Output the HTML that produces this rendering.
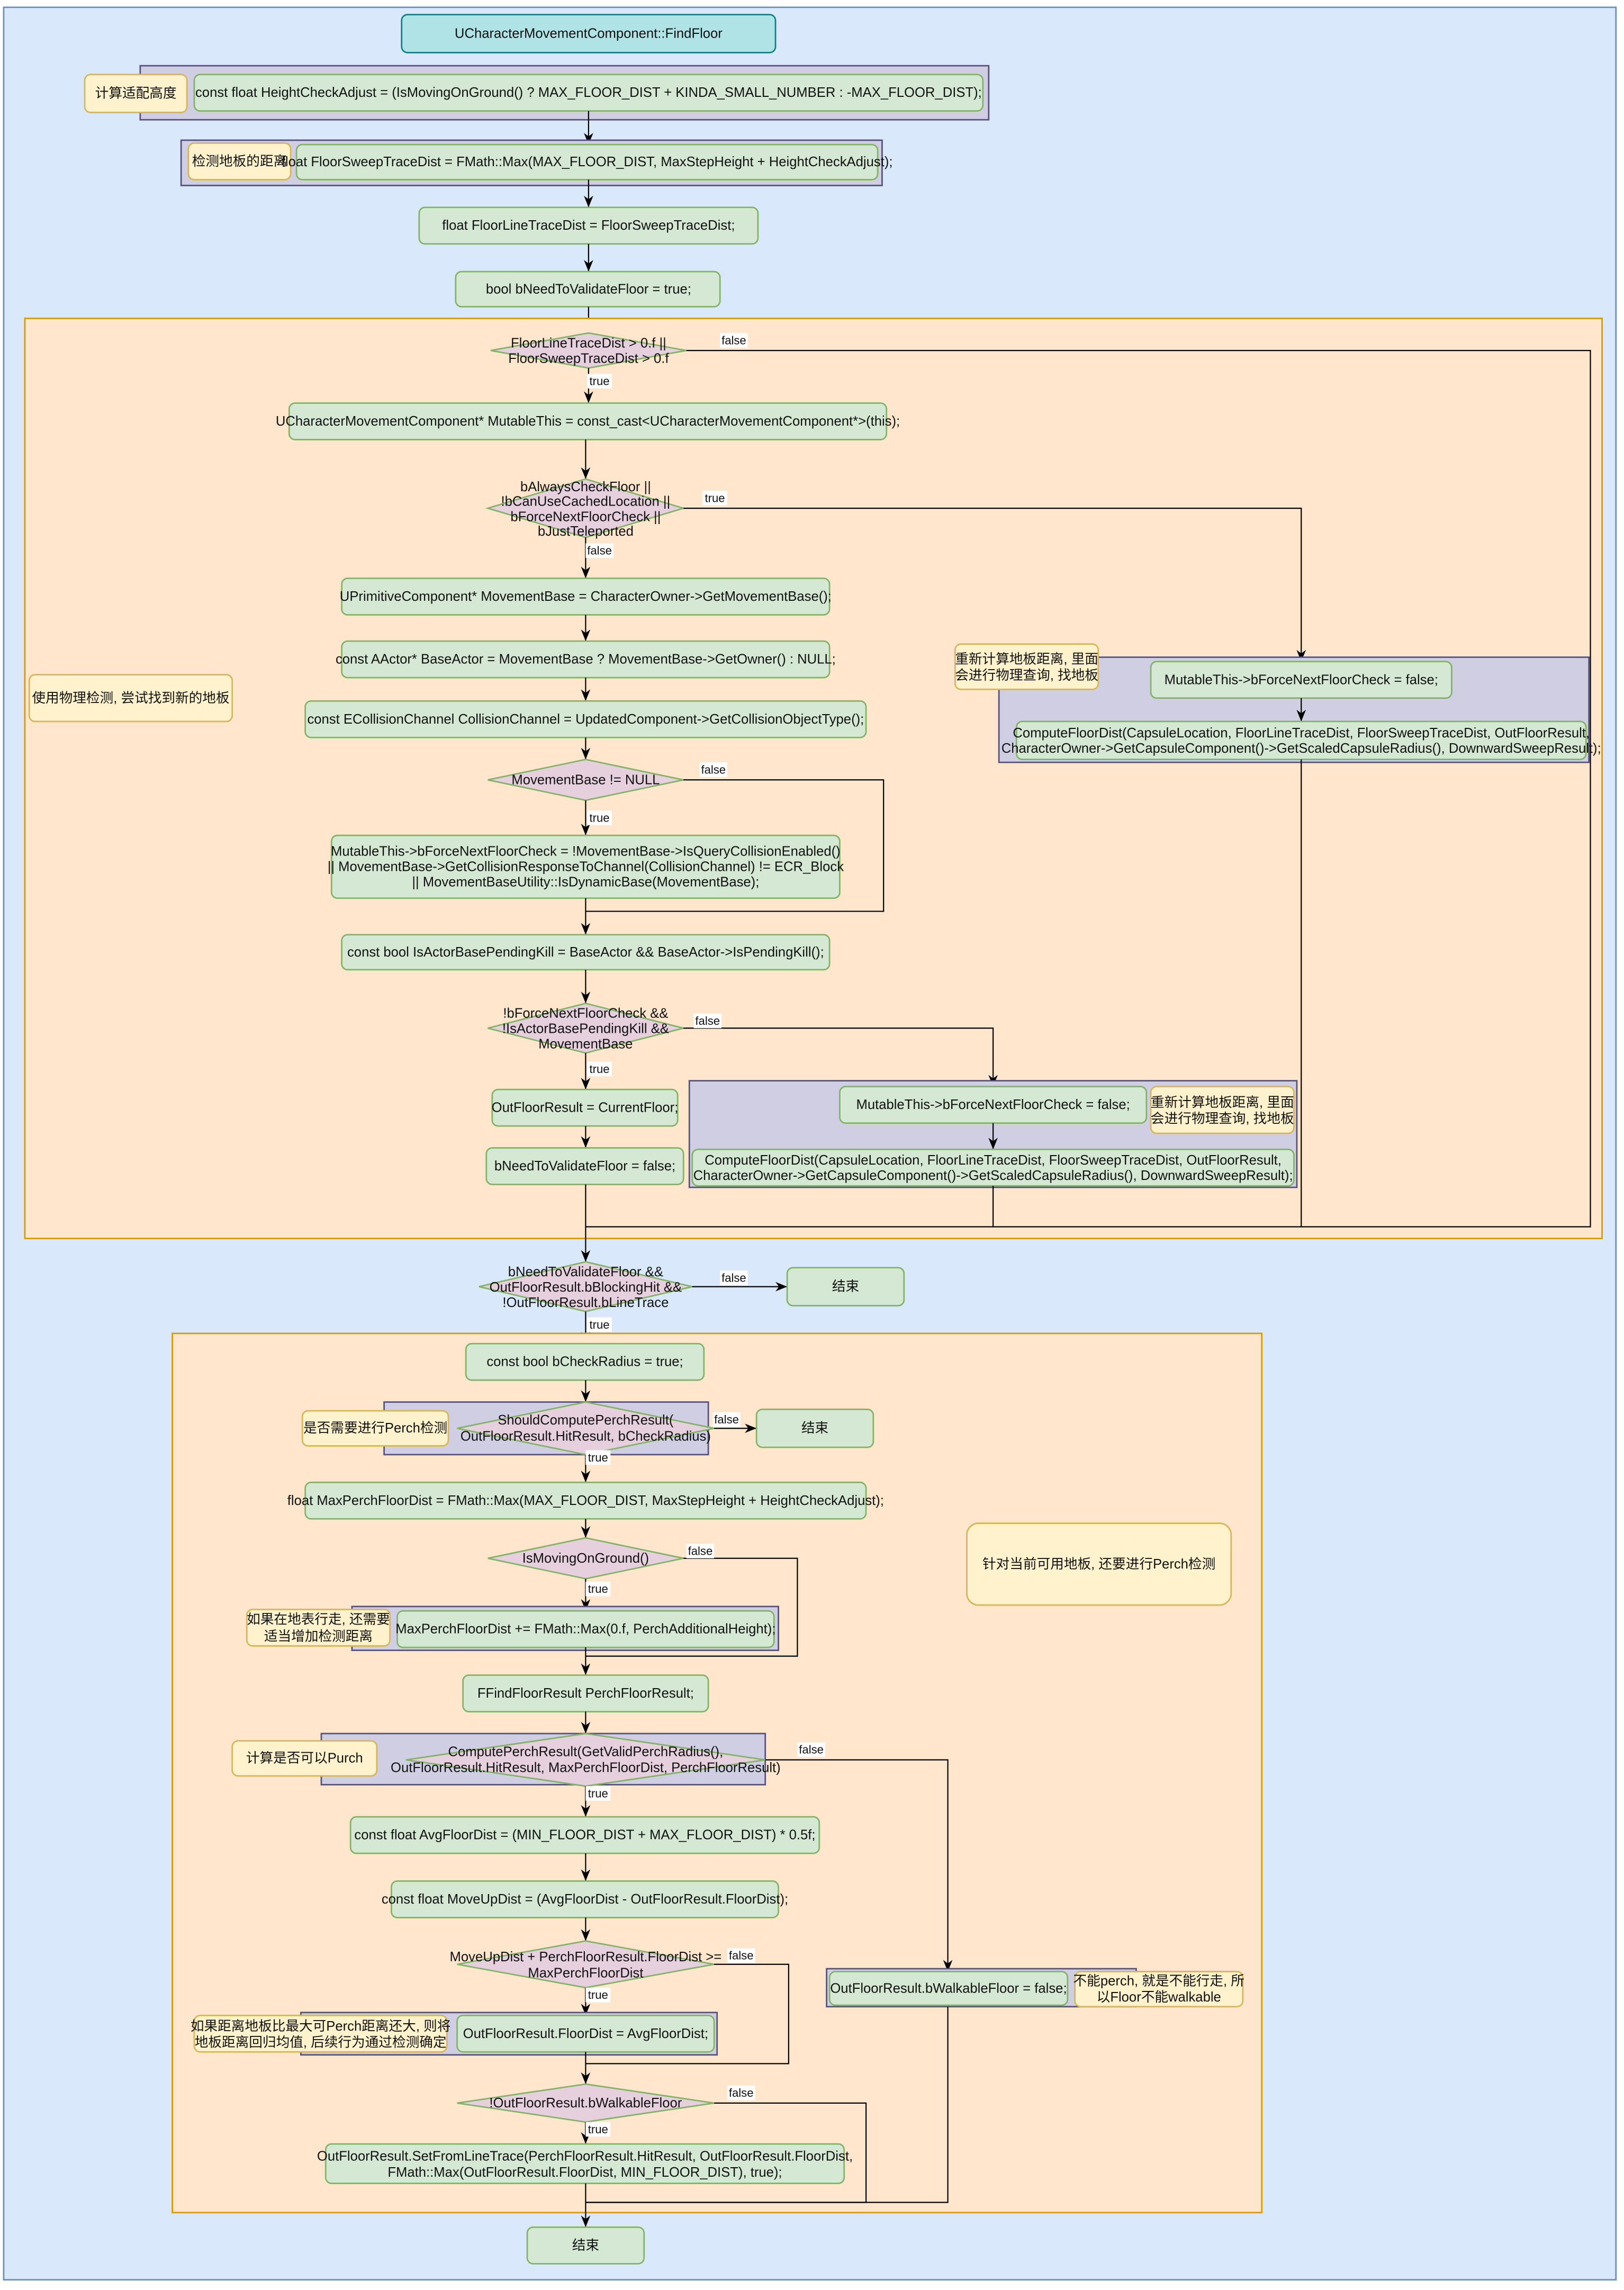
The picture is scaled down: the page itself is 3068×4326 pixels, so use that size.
<!DOCTYPE html>
<html><head><meta charset="utf-8"><style>
html,body{margin:0;padding:0;background:#fff;}
svg{display:block;}
text{font-family:"Liberation Sans","Noto Sans CJK SC",sans-serif;font-size:9.3px;fill:#111;text-anchor:middle;dominant-baseline:central;}
.l{font-size:8px;}
.g{fill:#d5e8d4;stroke:#82b366;stroke-width:1;}
.p{fill:#d0cee2;stroke:#56517e;stroke-width:1;}
.y{fill:#fff2cc;stroke:#d6b656;stroke-width:1;}
.d{fill:#e6d0de;stroke:#82b366;stroke-width:1;}
.o{fill:#ffe6cc;stroke:#d79b00;stroke-width:1;}
.e{fill:none;stroke:#000;stroke-width:0.8;}
.a{fill:none;stroke:#000;stroke-width:0.8;marker-end:url(#ar);}
.w{fill:#fff;}
</style></head><body>
<svg width="3068" height="4326" viewBox="0 0 1112 1568" xmlns="http://www.w3.org/2000/svg">
<defs><marker id="ar" markerUnits="userSpaceOnUse" markerWidth="8" markerHeight="8" viewBox="0 0 10 10" refX="10" refY="5" orient="auto"><path d="M0,1 L10,5 L0,9 L3,5 Z" fill="#000"/></marker></defs>
<rect x="0" y="0" width="1112" height="1568" fill="#fff"/>
<rect x="2.5" y="5" width="1104" height="1556" fill="#dae8fc" stroke="#6c8ebf"/>

<!-- title -->
<rect x="275" y="10" width="256" height="26" rx="4" fill="#b0e3e6" stroke="#0e8088"/>
<text x="403" y="23">UCharacterMovementComponent::FindFloor</text>

<rect class="p" x="96" y="45" width="581" height="37"/>
<rect class="y" x="58" y="51" width="70" height="26" rx="4"/><text x="93" y="64">计算适配高度</text>
<rect class="g" x="133" y="51" width="540" height="25" rx="4"/><text x="403" y="63.5">const float HeightCheckAdjust = (IsMovingOnGround() ? MAX_FLOOR_DIST + KINDA_SMALL_NUMBER : -MAX_FLOOR_DIST);</text>
<path class="a" d="M403,76 V99"/>
<rect class="p" x="124" y="96" width="480" height="31"/>
<rect class="y" x="129" y="98" width="70" height="25" rx="4"/><text x="164" y="110.5">检测地板的距离</text>
<rect class="g" x="203" y="99" width="398" height="24" rx="4"/><text x="402" y="111">float FloorSweepTraceDist = FMath::Max(MAX_FLOOR_DIST, MaxStepHeight + HeightCheckAdjust);</text>
<path class="a" d="M403,123 V142"/>
<rect class="g" x="287" y="142" width="232" height="25" rx="4"/><text x="403" y="154.5">float FloorLineTraceDist = FloorSweepTraceDist;</text>
<path class="a" d="M403,167 V186"/>
<rect class="g" x="312" y="186" width="181" height="24" rx="4"/><text x="403" y="198">bool bNeedToValidateFloor = true;</text>
<path class="a" d="M403,210 V228"/>

<!-- orange container 1 -->
<rect class="o" x="17" y="218" width="1080" height="630"/>
<rect class="y" x="20" y="462" width="139" height="32" rx="4"/><text x="89.5" y="478">使用物理检测, 尝试找到新的地板</text>

<polygon class="d" points="336,240 403,228 470,240 403,252"/>
<text x="403" y="235">FloorLineTraceDist &gt; 0.f ||</text><text x="403" y="245.5">FloorSweepTraceDist &gt; 0.f</text>
<path class="e" d="M470,240 H1089 V840 H401"/>
<rect class="w" x="493" y="228" width="19" height="10"/><text class="l" x="502.5" y="233">false</text>
<path class="a" d="M403,252 V276"/>
<rect class="w" x="402" y="256" width="17" height="10"/><text class="l" x="410.5" y="261">true</text>
<rect class="g" x="198" y="276" width="409" height="25" rx="4"/><text x="402.5" y="288.5">UCharacterMovementComponent* MutableThis = const_cast&lt;UCharacterMovementComponent*&gt;(this);</text>
<path class="a" d="M401,301 V328"/>

<polygon class="d" points="334,348 401,328 468,348 401,368"/>
<text x="401" y="333.5">bAlwaysCheckFloor ||</text><text x="401" y="343.5">!bCanUseCachedLocation ||</text><text x="401" y="354">bForceNextFloorCheck ||</text><text x="401" y="364">bJustTeleported</text>
<path class="a" d="M468,348 H891 V453"/>
<rect class="w" x="481" y="336" width="17" height="10"/><text class="l" x="489.5" y="341">true</text>
<path class="a" d="M401,368 V396"/>
<rect class="w" x="401" y="372" width="19" height="10"/><text class="l" x="410.5" y="377">false</text>

<rect class="g" x="234" y="396" width="334" height="25" rx="4"/><text x="401" y="408.5">UPrimitiveComponent* MovementBase = CharacterOwner-&gt;GetMovementBase();</text>
<path class="a" d="M401,421 V439"/>
<rect class="g" x="234" y="439" width="334" height="25" rx="4"/><text x="401" y="451.5">const AActor* BaseActor = MovementBase ? MovementBase-&gt;GetOwner() : NULL;</text>
<path class="a" d="M401,464 V480"/>
<rect class="g" x="209" y="480" width="384" height="25" rx="4"/><text x="401" y="492.5">const ECollisionChannel CollisionChannel = UpdatedComponent-&gt;GetCollisionObjectType();</text>
<path class="a" d="M401,505 V520"/>

<polygon class="d" points="334,534 401,520 468,534 401,548"/>
<text x="401" y="534">MovementBase != NULL</text>
<path class="e" d="M468,534 H605 V624 H401"/>
<rect class="w" x="479" y="522" width="19" height="10"/><text class="l" x="488.5" y="527">false</text>
<path class="a" d="M401,548 V572"/>
<rect class="w" x="402" y="555" width="17" height="10"/><text class="l" x="410.5" y="560">true</text>
<rect class="g" x="227" y="572" width="348" height="43" rx="4"/>
<text x="401" y="583">MutableThis-&gt;bForceNextFloorCheck = !MovementBase-&gt;IsQueryCollisionEnabled()</text>
<text x="401" y="593.5">|| MovementBase-&gt;GetCollisionResponseToChannel(CollisionChannel) != ECR_Block</text>
<text x="401" y="604">|| MovementBaseUtility::IsDynamicBase(MovementBase);</text>
<path class="a" d="M401,615 V640"/>
<rect class="g" x="234" y="640" width="334" height="24" rx="4"/><text x="401" y="652">const bool IsActorBasePendingKill = BaseActor &amp;&amp; BaseActor-&gt;IsPendingKill();</text>
<path class="a" d="M401,664 V687"/>

<polygon class="d" points="334,704 401,687 468,704 401,721"/>
<text x="401" y="694">!bForceNextFloorCheck &amp;&amp;</text><text x="401" y="704.5">!IsActorBasePendingKill &amp;&amp;</text><text x="401" y="715">MovementBase</text>
<path class="a" d="M468,704 H680 V744"/>
<rect class="w" x="475" y="694" width="19" height="10"/><text class="l" x="484.5" y="699">false</text>
<path class="a" d="M401,721 V746"/>
<rect class="w" x="402" y="727" width="17" height="10"/><text class="l" x="410.5" y="732">true</text>
<rect class="g" x="337" y="746" width="127" height="25" rx="4"/><text x="400.5" y="758.5">OutFloorResult = CurrentFloor;</text>
<path class="a" d="M401,771 V786"/>
<rect class="g" x="333" y="786" width="135" height="25" rx="4"/><text x="400.5" y="798.5">bNeedToValidateFloor = false;</text>
<path class="e" d="M401,811 V840"/>

<!-- purple group mid -->
<rect class="p" x="472" y="740" width="416" height="73"/>
<rect class="g" x="575" y="744" width="210" height="25" rx="4"/><text x="680" y="756.5">MutableThis-&gt;bForceNextFloorCheck = false;</text>
<rect class="y" x="788" y="744" width="98" height="32" rx="4"/><text x="837" y="755">重新计算地板距离, 里面</text><text x="837" y="766">会进行物理查询, 找地板</text>
<path class="a" d="M680,769 V787"/>
<rect class="g" x="474" y="787" width="412" height="25" rx="4"/>
<text x="680" y="794.5">ComputeFloorDist(CapsuleLocation, FloorLineTraceDist, FloorSweepTraceDist, OutFloorResult,</text>
<text x="680" y="805">CharacterOwner-&gt;GetCapsuleComponent()-&gt;GetScaledCapsuleRadius(), DownwardSweepResult);</text>
<path class="e" d="M680,812 V840"/>

<!-- purple group right -->
<rect class="p" x="684" y="450" width="404" height="72"/>
<rect class="y" x="654" y="441" width="98" height="31" rx="4"/><text x="703" y="451.5">重新计算地板距离, 里面</text><text x="703" y="462.5">会进行物理查询, 找地板</text>
<rect class="g" x="788" y="453" width="206" height="25" rx="4"/><text x="891" y="465.5">MutableThis-&gt;bForceNextFloorCheck = false;</text>
<path class="a" d="M891,478 V494"/>
<rect class="g" x="696" y="494" width="390" height="26" rx="4"/>
<text x="891" y="502">ComputeFloorDist(CapsuleLocation, FloorLineTraceDist, FloorSweepTraceDist, OutFloorResult,</text>
<text x="891" y="512.5">CharacterOwner-&gt;GetCapsuleComponent()-&gt;GetScaledCapsuleRadius(), DownwardSweepResult);</text>
<path class="e" d="M891,520 V840"/>

<path class="a" d="M401,840 V864"/>
<polygon class="d" points="328,881 401,864 474,881 401,898"/>
<text x="401" y="871">bNeedToValidateFloor &amp;&amp;</text><text x="401" y="881.5">OutFloorResult.bBlockingHit &amp;&amp;</text><text x="401" y="892">!OutFloorResult.bLineTrace</text>
<path class="a" d="M474,881 H539"/>
<rect class="w" x="493" y="870" width="19" height="10"/><text class="l" x="502.5" y="875">false</text>
<rect class="g" x="539" y="868" width="80" height="26" rx="4"/><text x="579" y="881">结束</text>
<path class="a" d="M401,898 V920"/>
<rect class="w" x="402" y="902" width="17" height="10"/><text class="l" x="410.5" y="907">true</text>

<!-- orange container 2 -->
<rect class="o" x="118" y="913" width="746" height="602"/>
<rect class="g" x="319" y="920" width="163" height="25" rx="4"/><text x="400.5" y="932.5">const bool bCheckRadius = true;</text>
<rect class="y" x="662" y="1043" width="181" height="56" rx="8"/><text x="752.5" y="1071">针对当前可用地板, 还要进行Perch检测</text>
<path class="a" d="M401,945 V960"/>

<rect class="p" x="263" y="960" width="222" height="36"/>
<rect class="y" x="207" y="966" width="100" height="24" rx="4"/><text x="257" y="978">是否需要进行Perch检测</text>
<polygon class="d" points="313,978 401,960 489,978 401,996"/>
<text x="401" y="972.5">ShouldComputePerchResult(</text><text x="401" y="983.5">OutFloorResult.HitResult, bCheckRadius)</text>
<path class="a" d="M489,978 H518"/>
<rect class="w" x="488" y="967" width="19" height="10"/><text class="l" x="497.5" y="972">false</text>
<rect class="g" x="518" y="965" width="80" height="26" rx="4"/><text x="558" y="978">结束</text>
<path class="a" d="M401,996 V1015"/>
<rect class="w" x="401" y="993" width="17" height="10"/><text class="l" x="409.5" y="998">true</text>
<rect class="g" x="209" y="1015" width="384" height="25" rx="4"/><text x="401" y="1027.5">float MaxPerchFloorDist = FMath::Max(MAX_FLOOR_DIST, MaxStepHeight + HeightCheckAdjust);</text>
<path class="a" d="M401,1040 V1053"/>

<polygon class="d" points="334,1067 401,1053 468,1067 401,1081"/>
<text x="401" y="1067">IsMovingOnGround()</text>
<path class="e" d="M468,1067 H546 V1134 H401"/>
<rect class="w" x="470" y="1057" width="19" height="10"/><text class="l" x="479.5" y="1062">false</text>
<path class="a" d="M401,1081 V1103"/>
<rect class="w" x="401" y="1083" width="17" height="10"/><text class="l" x="409.5" y="1088">true</text>
<rect class="p" x="241" y="1100" width="292" height="30"/>
<rect class="y" x="169" y="1102" width="98" height="25" rx="4"/><text x="218" y="1109">如果在地表行走, 还需要</text><text x="218" y="1120.5">适当增加检测距离</text>
<rect class="g" x="272" y="1103" width="258" height="25" rx="4"/><text x="401" y="1115.5">MaxPerchFloorDist += FMath::Max(0.f, PerchAdditionalHeight);</text>
<path class="a" d="M401,1128 V1147"/>
<rect class="g" x="317" y="1147" width="168" height="25" rx="4"/><text x="401" y="1159.5">FFindFloorResult PerchFloorResult;</text>
<path class="a" d="M401,1172 V1187"/>

<rect class="p" x="220" y="1187" width="304" height="35"/>
<rect class="y" x="159" y="1192" width="99" height="24" rx="4"/><text x="208.5" y="1204">计算是否可以Purch</text>
<polygon class="d" points="278,1205 401,1187 524,1205 401,1223"/>
<text x="401" y="1199.5">ComputePerchResult(GetValidPerchRadius(),</text><text x="401" y="1210.5">OutFloorResult.HitResult, MaxPerchFloorDist, PerchFloorResult)</text>
<path class="a" d="M524,1205 H649 V1350"/>
<rect class="w" x="546" y="1193" width="19" height="10"/><text class="l" x="555.5" y="1198">false</text>
<path class="a" d="M401,1223 V1244"/>
<rect class="w" x="401" y="1223" width="17" height="10"/><text class="l" x="409.5" y="1228">true</text>
<rect class="g" x="240" y="1244" width="321" height="25" rx="4"/><text x="400.5" y="1256.5">const float AvgFloorDist = (MIN_FLOOR_DIST + MAX_FLOOR_DIST) * 0.5f;</text>
<path class="a" d="M401,1269 V1288"/>
<rect class="g" x="268" y="1288" width="265" height="25" rx="4"/><text x="400.5" y="1300.5">const float MoveUpDist = (AvgFloorDist - OutFloorResult.FloorDist);</text>
<path class="a" d="M401,1313 V1329"/>

<polygon class="d" points="313,1345 401,1329 489,1345 401,1361"/>
<text x="401" y="1340">MoveUpDist + PerchFloorResult.FloorDist &gt;=</text><text x="401" y="1351">MaxPerchFloorDist</text>
<path class="e" d="M489,1345 H540 V1413 H401"/>
<rect class="w" x="498" y="1334" width="19" height="10"/><text class="l" x="507.5" y="1339">false</text>
<path class="a" d="M401,1361 V1380"/>
<rect class="w" x="401" y="1361" width="17" height="10"/><text class="l" x="409.5" y="1366">true</text>
<rect class="p" x="206" y="1378" width="285" height="29"/>
<rect class="y" x="133" y="1380" width="173" height="25" rx="4"/><text x="219.5" y="1387.5">如果距离地板比最大可Perch距离还大, 则将</text><text x="219.5" y="1398.5">地板距离回归均值, 后续行为通过检测确定</text>
<rect class="g" x="313" y="1380" width="176" height="25" rx="4"/><text x="401" y="1392.5">OutFloorResult.FloorDist = AvgFloorDist;</text>
<path class="a" d="M401,1405 V1427"/>

<polygon class="d" points="313,1440 401,1427 489,1440 401,1453"/>
<text x="401" y="1440">!OutFloorResult.bWalkableFloor</text>
<path class="e" d="M489,1440 H593 V1508 H401"/>
<rect class="w" x="498" y="1428" width="19" height="10"/><text class="l" x="507.5" y="1433">false</text>
<path class="a" d="M401,1453 V1468"/>
<rect class="w" x="401" y="1453" width="17" height="10"/><text class="l" x="409.5" y="1458">true</text>
<rect class="g" x="223" y="1468" width="355" height="27" rx="4"/>
<text x="400.5" y="1476.5">OutFloorResult.SetFromLineTrace(PerchFloorResult.HitResult, OutFloorResult.FloorDist,</text>
<text x="400.5" y="1487.5">FMath::Max(OutFloorResult.FloorDist, MIN_FLOOR_DIST), true);</text>

<rect class="p" x="566" y="1348" width="212" height="26"/>
<rect class="g" x="568" y="1350" width="163" height="23" rx="4"/><text x="649.5" y="1361.5">OutFloorResult.bWalkableFloor = false;</text>
<rect class="y" x="736" y="1350" width="115" height="24" rx="4"/><text x="793.5" y="1356.5">不能perch, 就是不能行走, 所</text><text x="793.5" y="1367.5">以Floor不能walkable</text>
<path class="e" d="M649,1374 V1508 H401"/>

<path class="a" d="M401,1495 V1525"/>
<rect class="g" x="361" y="1525" width="80" height="25" rx="4"/><text x="401" y="1537.5">结束</text>
</svg>
</body></html>
